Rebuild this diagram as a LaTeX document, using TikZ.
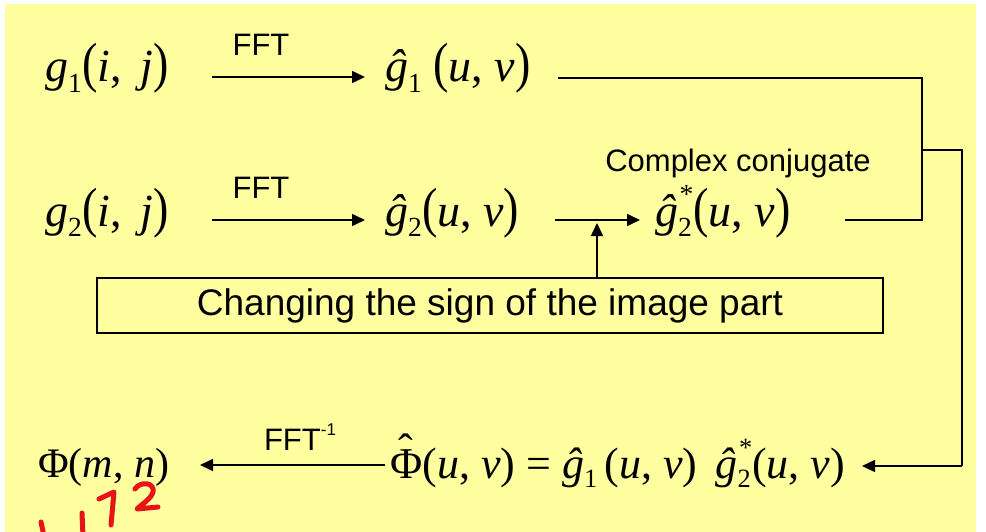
\documentclass[tikz,border=0pt]{standalone}
\usepackage{fontspec}
\usepackage{graphicx}
\setmainfont{Liberation Serif}
\newfontfamily\lsans{Liberation Sans}
\usetikzlibrary{arrows.meta,calc}
\definecolor{bgyellow}{RGB}{255,255,160}
\definecolor{inkred}{RGB}{230,20,20}
\newcommand\tlp{\scalebox{1}[1.2]{(}}
\newcommand\trp{\scalebox{1}[1.2]{)}}
\newcommand\lsub[1]{\raisebox{-0.22em}{\scalebox{0.6}{#1}}}
\newcommand\gh{\textit{ĝ}}
\newcommand\subsup[2]{\rlap{\raisebox{-0.22em}{\scalebox{0.6}{#1}}}\kern0.03em\raisebox{0.5em}{\scalebox{0.6}{#2}}}
\newcommand\Phihat{\ooalign{Φ\cr\hidewidth\raisebox{0.3em}{ˆ}\hidewidth\cr}}
\begin{document}
\begin{tikzpicture}[x=1pt,y=-1pt,
  mathbig/.style={inner sep=0pt, anchor=base west, font=\fontsize{46}{50}\selectfont},
  mathrow/.style={inner sep=0pt, anchor=base west, font=\fontsize{44}{48}\selectfont},
  mathphi/.style={inner sep=0pt, anchor=base west, font=\fontsize{42}{46}\selectfont},
  lab/.style={inner sep=0pt, font=\lsans\fontsize{31}{34}\selectfont},
  boxtext/.style={draw, line width=1.4pt, inner sep=0pt, minimum width=786pt, minimum height=55pt, font=\lsans\fontsize{37}{40}\selectfont},
  conn/.style={line width=1.6pt, -{Triangle[length=13pt,width=12pt]}},
  wire/.style={line width=1.6pt},
  ink/.style={draw=inkred, line width=5pt, line cap=round, line join=round}]
\useasboundingbox (0,0) rectangle (986,532);
\fill[white] (0,0) rectangle (986,532);
\fill[bgyellow] (5,4) rectangle (976,532);

% row 1
\node[mathbig] (g1) at (45,82) {\textit{g}\lsub{1}\tlp\textit{i},\, \textit{j}\trp};
\node[mathbig] (g1h) at (385,82) {\gh\lsub{1}\kern0.25em\tlp\textit{u}, \textit{v}\trp};
\node[lab] (fft1) at (261,45) {FFT};
% row 2
\node[mathbig] (g2) at (45,226) {\textit{g}\lsub{2}\tlp\textit{i},\, \textit{j}\trp};
\node[mathbig] (g2h) at (385,226) {\gh\lsub{2}\tlp\textit{u}, \textit{v}\trp};
\node[mathbig] (g2c) at (655,226) {\gh\subsup{2}{*}\tlp\textit{u}, \textit{v}\trp};
\node[lab] (fft2) at (261,188) {FFT};
\node[lab] (cc) at (738,163) {Complex conjugate};
\node[boxtext] (box) at (490,305.5) {Changing the sign of the image part};
% row 3
\node[mathphi] (phi) at (38,477) {Φ(\textit{m}, \textit{n})};
\node[mathrow] (phih) at (390,478) {\Phihat(\textit{u}, \textit{v}) = \gh\lsub{1}\,(\textit{u}, \textit{v})\, \gh\subsup{2}{*}(\textit{u}, \textit{v})};
\node[lab] (ifft) at (300,437) {FFT\raisebox{0.5em}{\scalebox{0.55}{-1}}};

% connectors
\draw[conn] ($(g1.base west)+(167,-5)$) -- ($(g1h.base west)+(-20,-5)$);
\draw[conn] ($(g2.base west)+(167,-6)$) -- ($(g2h.base west)+(-20,-6)$);
\draw[conn] ($(g2h.base west)+(170,-6)$) -- ($(g2c.base west)+(-15,-6)$);
\coordinate (m) at ($(box.north)+(107,0)$);
\draw[conn] (m) -- (m |- 0,223);

\coordinate (busTop) at (922,78);
\coordinate (busMid) at (922,220);
\coordinate (busA) at (922,150);
\coordinate (busB) at (962,150);
\coordinate (busC) at (962,466);
\draw[wire] ($(g1h.base west)+(173,-4)$) -- (busTop) -- (busMid) -- ($(g2c.base west)+(190,-6)$);
\draw[wire] (busA) -- (busB) -- (busC);
\draw[conn] (busC) -- ($(phih.base west)+(472,-12)$);
\draw[conn] ($(phih.base west)+(-5,-13)$) -- ($(phi.base west)+(162,-12)$);

% red handwritten annotation
\draw[ink] (41,522) -- (44,536);
\draw[ink] (82,513) -- (83,536);
\draw[ink] (99,499) -- (114,492) -- (111,525);
\draw[ink] (135,489) .. controls (140,481) and (155,482) .. (153,492) .. controls (151,499) and (142,504) .. (137,509) -- (158,507);
\end{tikzpicture}
\end{document}
